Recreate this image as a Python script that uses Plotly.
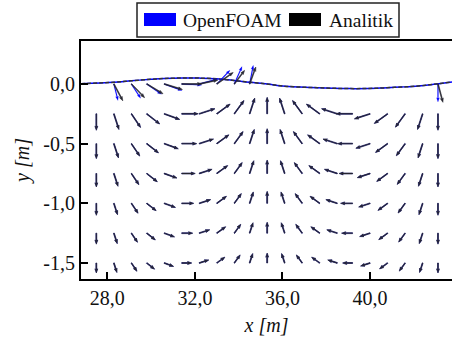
import math
import plotly.graph_objects as go

# ---------------- data ----------------
# grid columns (x, m) and interior rows (y, m)
x_cols = [27.5, 28.3, 29.1, 29.8, 30.6, 31.4, 32.2, 33.0, 33.8, 34.5, 35.3,
          36.1, 36.9, 37.7, 38.5, 39.2, 40.0, 40.8, 41.6, 42.4, 43.1]
y_rows = [-0.25, -0.5, -0.75, -1.0, -1.25, -1.5]
# velocity direction per column (deg, counter-clockwise from +x)
dir_cols = [-90, -72, -56, -38, -20, 0, 18, 36, 54, 72, 90,
            108, 126, 144, 162, 180, 198, 216, 234, 252, 270]
# velocity magnitude per row (m/s)
speed_rows = [0.165, 0.15, 0.135, 0.12, 0.11, 0.10]

# near-surface arrows
surf_x = [28.3, 29.1, 29.8, 30.6, 31.4, 32.2, 33.0, 33.8, 34.5, 43.1]
surf_y = [0.0, 0.0, 0.0, 0.0, 0.0, 0.0, 0.0, 0.0, 0.0, 0.0]
surf_dir_analitik = [-62, -46, -31, -17, 0, 12, 35, 53, 70, -75]
surf_spd_analitik = [0.19, 0.19, 0.19, 0.19, 0.20, 0.19, 0.20, 0.17, 0.18, 0.19]
surf_dir_openfoam = [-76, -57, -35, -20, -3, 15, 46, 66, 79, -90]
surf_spd_openfoam = [0.17, 0.17, 0.18, 0.19, 0.20, 0.19, 0.19, 0.19, 0.19, 0.18]

# free surface elevation
eta_x = [26.8, 28.3, 29.1, 30.0, 30.6, 31.45, 32.2, 33.0, 33.7, 34.5, 35.3,
         36.0, 36.8, 37.6, 38.3, 39.1, 39.9, 40.6, 41.4, 42.2, 42.9, 43.74]
eta_y = [0.002, 0.014, 0.027, 0.039, 0.046, 0.050, 0.049, 0.044, 0.031, 0.014, 0.0,
         -0.017, -0.026, -0.031, -0.036, -0.039, -0.038, -0.033, -0.026, -0.017, -0.003, 0.017]

x_ticks = [28, 32, 36, 40]
x_ticktext = ["28,0", "32,0", "36,0", "40,0"]
y_ticks = [0.0, -0.5, -1.0, -1.5]
y_ticktext = ["0,0", "-0,5", "-1,0", "-1,5"]

# ---------------- layout geometry / style ----------------
W, H = 452, 346
ML, MT, MR, MB = 81, 41, 0, 67
x_range = [26.80, 43.74]
y_range = [-1.634, 0.36]
plot_w = W - ML - MR
plot_h = H - MT - MB
sx = plot_w / (x_range[1] - x_range[0])   # px per m
sy = plot_h / (y_range[1] - y_range[0])
Q = 100.0     # quiver scale: px per (m/s)
SHAFT = 0.9   # shaft width px
FONT = "Liberation Serif"
BLUE = "#0000ff"
DARK = "#262630"


def arrow_polys(xs, ys, dirs, speeds):
    px_, py_ = [], []
    w = SHAFT
    hw, hl, hal = 3.2 * w, 4.6 * w, 4.0 * w
    for x0, y0, a, s in zip(xs, ys, dirs, speeds):
        L = s * Q
        ca, sa = math.cos(math.radians(a)), math.sin(math.radians(a))
        loc = [(0, -w / 2), (L - hal, -w / 2), (L - hl, -hw / 2), (L, 0),
               (L - hl, hw / 2), (L - hal, w / 2), (0, w / 2), (0, -w / 2)]
        for al, pe in loc:
            dx = al * ca - pe * sa
            dy = al * sa + pe * ca
            px_.append(x0 + dx / sx)
            py_.append(y0 + dy / sy)
        px_.append(None)
        py_.append(None)
    return px_, py_


# interior grid flattened
gx, gy, gd, gs = [], [], [], []
for r, yv in enumerate(y_rows):
    for c, xv in enumerate(x_cols):
        gx.append(xv)
        gy.append(yv)
        gd.append(dir_cols[c])
        gs.append(speed_rows[r])

fig = go.Figure()

# surface lines
fig.add_trace(go.Scatter(x=eta_x, y=eta_y, mode="lines", line=dict(color=BLUE, width=1.5, shape="spline"),
                         showlegend=False, hoverinfo="skip"))
fig.add_trace(go.Scatter(x=eta_x, y=eta_y, mode="lines",
                         line=dict(color="#333333", width=1.5, dash="4px,2px", shape="spline"),
                         showlegend=False, hoverinfo="skip"))

# OpenFOAM arrows (blue)
bx, by = arrow_polys(gx + surf_x, gy + surf_y, gd + surf_dir_openfoam, gs + surf_spd_openfoam)
fig.add_trace(go.Scatter(x=bx, y=by, mode="lines", fill="toself", fillcolor=BLUE,
                         line=dict(color=BLUE, width=0.2), showlegend=False, hoverinfo="skip"))
# Analitik arrows (black)
kx, ky = arrow_polys(gx + surf_x, gy + surf_y, gd + surf_dir_analitik, gs + surf_spd_analitik)
fig.add_trace(go.Scatter(x=kx, y=ky, mode="lines", fill="toself", fillcolor=DARK,
                         line=dict(color=DARK, width=0.6), showlegend=False, hoverinfo="skip"))


def px2paper(px, py):
    return (px - ML) / plot_w, (H - MB - py) / plot_h


# manual legend (matplotlib style box)
shapes = []
x0p, y0p = px2paper(137, 3)
x1p, y1p = px2paper(399, 37)
shapes.append(dict(type="rect", xref="paper", yref="paper", x0=x0p, y0=y1p, x1=x1p, y1=y0p,
                   line=dict(color="#222222", width=1.5), fillcolor="white", layer="above"))
for (a, b, col) in [(144, 176, BLUE), (289, 321, "black")]:
    xa, ya = px2paper(a, 13)
    xb, yb = px2paper(b, 26)
    shapes.append(dict(type="rect", xref="paper", yref="paper", x0=xa, y0=yb, x1=xb, y1=ya,
                       line=dict(width=0), fillcolor=col, layer="above"))
annotations = []
for (a, txt) in [(181, "OpenFOAM"), (327, "Analitik")]:
    xa, ya = px2paper(a, 20)
    annotations.append(dict(text=txt, xref="paper", yref="paper", x=xa, y=ya, xanchor="left",
                            yanchor="middle", showarrow=False,
                            font=dict(family=FONT, size=19.5, color="#111111")))

fig.update_layout(
    width=W, height=H,
    margin=dict(l=ML, r=MR, t=MT, b=MB),
    paper_bgcolor="white", plot_bgcolor="white",
    showlegend=False,
    font=dict(family=FONT, size=20, color="#111111"),
    shapes=shapes, annotations=annotations,
    xaxis=dict(range=x_range, tickvals=x_ticks, ticktext=x_ticktext, ticks="inside", ticklen=7,
               tickwidth=1.5, tickcolor="black", showline=True, linewidth=2, linecolor="black",
               mirror=True, showgrid=False, zeroline=False, automargin=False,
               tickfont=dict(family=FONT, size=20),
               title=dict(text="<i>x [m]</i>", standoff=10, font=dict(family=FONT, size=20))),
    yaxis=dict(range=y_range, tickvals=y_ticks, ticktext=y_ticktext, ticks="inside", ticklen=7,
               tickwidth=1.5, tickcolor="black", showline=True, linewidth=2, linecolor="black",
               mirror=False, showgrid=False, zeroline=False, automargin=False,
               tickfont=dict(family=FONT, size=20),
               title=dict(text="<i>y [m]</i>", standoff=8, font=dict(family=FONT, size=20))),
)

fig.write_html("out.html")
